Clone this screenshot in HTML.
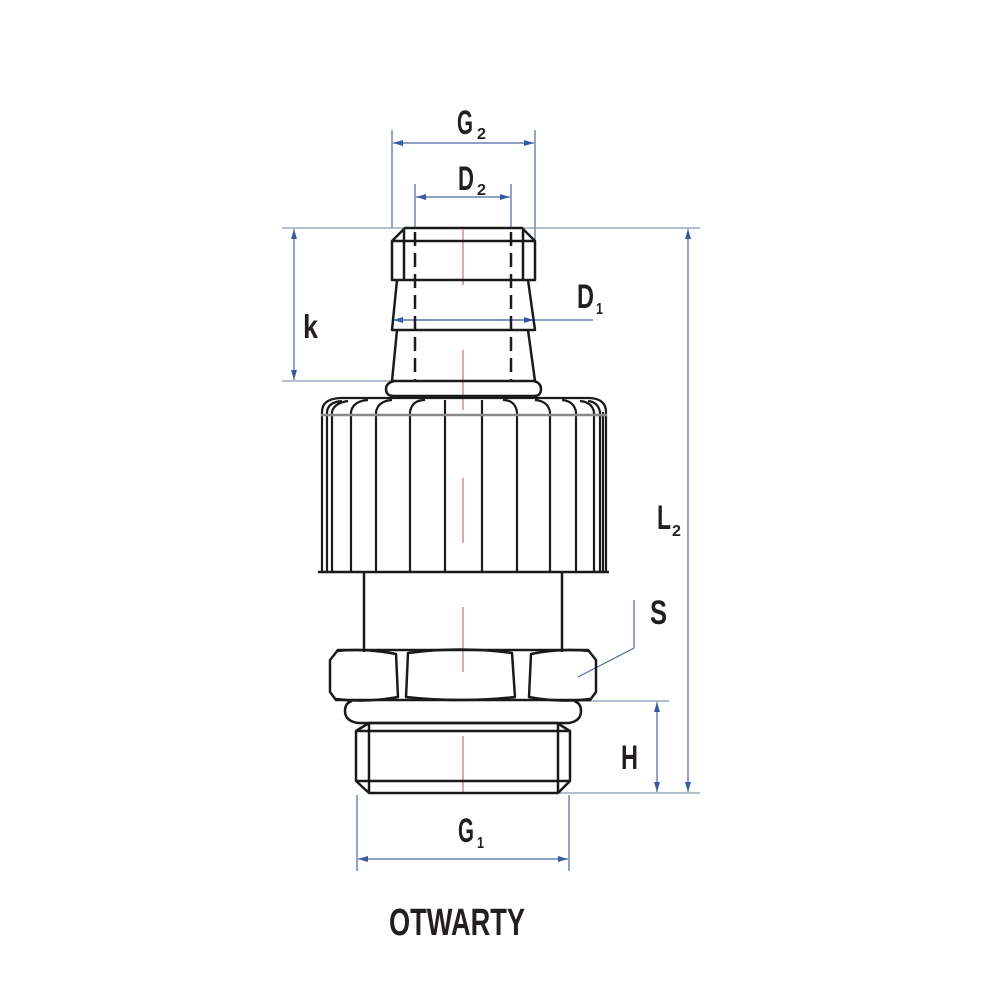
<!DOCTYPE html>
<html><head><meta charset="utf-8"><style>
html,body{margin:0;padding:0;background:#fff;}
svg{display:block;}
text{font-family:"Liberation Sans Narrow","Liberation Sans",sans-serif;font-weight:bold;fill:#231f20;}
</style></head><body>
<svg width="1000" height="1000" viewBox="0 0 1000 1000" xmlns="http://www.w3.org/2000/svg">
<defs>
<marker id="a" viewBox="0 0 10 6" refX="10" refY="3" markerWidth="10" markerHeight="6" orient="auto-start-reverse" markerUnits="userSpaceOnUse">
<path d="M0,0 L10,3 L0,6 z" fill="#3a5aa0"/></marker>
</defs>
<g stroke="#4a68a8" stroke-width="1.2" fill="none">
<line x1="392" y1="130" x2="392" y2="228"/>
<line x1="535" y1="130" x2="535" y2="240"/>
<line x1="393" y1="143" x2="534" y2="143" marker-start="url(#a)" marker-end="url(#a)"/>
<line x1="415" y1="184" x2="415" y2="228"/>
<line x1="511" y1="184" x2="511" y2="228"/>
<line x1="416" y1="197" x2="510" y2="197" marker-start="url(#a)" marker-end="url(#a)"/>
<line x1="393" y1="320" x2="593" y2="320" marker-start="url(#a)"/>
<line x1="393" y1="320" x2="534" y2="320" marker-end="url(#a)"/>
<line x1="294" y1="229" x2="294" y2="380" marker-start="url(#a)" marker-end="url(#a)"/>
<line x1="688" y1="229" x2="688" y2="792" marker-start="url(#a)" marker-end="url(#a)"/>
<line x1="657" y1="702" x2="657" y2="792" marker-start="url(#a)" marker-end="url(#a)"/>
<line x1="357" y1="795" x2="357" y2="871"/>
<line x1="569" y1="795" x2="569" y2="871"/>
<line x1="358" y1="859" x2="568" y2="859" marker-start="url(#a)" marker-end="url(#a)"/>
<polyline points="634,600 634,648 578,677"/>
</g>
<g stroke="#8a96b0" stroke-width="1.2" fill="none">
<line x1="282" y1="228" x2="700" y2="228"/>
<line x1="282" y1="381" x2="395" y2="381"/>
<line x1="580" y1="701" x2="669" y2="701"/>
<line x1="560" y1="793" x2="700" y2="793"/>
</g>
<g stroke="#c0504d" stroke-width="1">
<line x1="463" y1="230" x2="463" y2="285"/>
<line x1="463" y1="350" x2="463" y2="410"/>
<line x1="463" y1="478" x2="463" y2="543"/>
<line x1="463" y1="607" x2="463" y2="672"/>
<line x1="463" y1="736" x2="463" y2="792"/>
</g>
<g stroke="#1a1a1a" stroke-width="2.5" fill="none" stroke-linejoin="round">
<path d="M405,228 L522,228 L535,241 L535,280 L392,280 L392,241 Z"/>
<line x1="392" y1="241" x2="535" y2="241"/>
<line x1="404" y1="229" x2="404" y2="280"/>
<line x1="523" y1="229" x2="523" y2="280"/>
<path d="M397,280 L392,330 L535,330 L528,280"/>
<path d="M397,330 L392,381 L535,381 L528,330"/>
<path d="M394,381 Q386,383 386,389 Q386,396 394,396 L534,396 Q541,396 541,389 Q541,383 534,381"/>
</g>
<g stroke="#1a1a1a" stroke-width="2.5" stroke-dasharray="14,7">
<line x1="415" y1="232" x2="415" y2="380"/>
<line x1="511" y1="232" x2="511" y2="380"/>
</g>
<g stroke="#1a1a1a" stroke-width="2.2" fill="none">
<path d="M322,572 L322,412 Q322,399 340,398 L590,398 Q606,399 606,412 L606,572"/>
<line x1="318" y1="572" x2="609" y2="572" stroke-width="2.5"/>
<path d="M327,572 L327,412 Q328,402 342,401"/><path d="M332,572 L332,412 Q334,403 348,401"/>
<path d="M351,572 L351,412 Q353,401 368,400"/><path d="M376,572 L376,412 Q378,401 392,400"/>
<path d="M410,572 L410,412 Q412,400 425,400"/><line x1="445" y1="400" x2="445" y2="572"/>
<line x1="482" y1="400" x2="482" y2="572"/><path d="M517,572 L517,412 Q515,400 503,400"/>
<path d="M550,572 L550,412 Q548,401 535,400"/><path d="M576,572 L576,412 Q574,401 562,400"/>
<path d="M594,572 L594,412 Q592,402 580,401"/><path d="M600,572 L600,412 Q598,402 588,401"/>
<line x1="603" y1="412" x2="603" y2="572"/>
</g>
<line x1="321" y1="415" x2="607" y2="415" stroke="#8a8a8a" stroke-width="2.5"/>
<g stroke="#1a1a1a" stroke-width="2.5" fill="none" stroke-linejoin="round">
<line x1="364" y1="572" x2="364" y2="652"/>
<line x1="562" y1="572" x2="562" y2="652"/>
<path d="M338,650 L588,650 L596,660 L596,692 L590,700 L336,700 L330,692 L330,660 Z"/>
<path d="M336,651 Q366,648 396,654 L398,697 Q366,703 336,699"/>
<path d="M408,653 Q460,646 512,653 L515,697 Q460,703 406,697 Z"/>
<path d="M590,651 Q560,648 531,654 L529,697 Q560,703 590,699"/>
<path d="M352,701 Q345,703 345,711 Q345,721 358,723 L569,723 Q581,721 581,711 Q581,703 574,701"/>
<path d="M369,723 L557,723 L570,731 L570,781 L558,793 L369,793 L356,781 L356,731 Z"/>
<line x1="356" y1="731" x2="570" y2="731"/>
<line x1="356" y1="781" x2="570" y2="781"/>
<line x1="369" y1="724" x2="369" y2="793"/>
<line x1="558" y1="724" x2="558" y2="793"/>
</g>
<g style="font-weight:bold">
<text x="457" y="134" font-size="34" textLength="16" lengthAdjust="spacingAndGlyphs">G</text><text x="477" y="139" font-size="16" textLength="9" lengthAdjust="spacingAndGlyphs">2</text>
<text x="458" y="190" font-size="34" textLength="16" lengthAdjust="spacingAndGlyphs">D</text><text x="477" y="195" font-size="16" textLength="9" lengthAdjust="spacingAndGlyphs">2</text>
<text x="577" y="308" font-size="34" textLength="17" lengthAdjust="spacingAndGlyphs">D</text><text x="596" y="314" font-size="16" textLength="7" lengthAdjust="spacingAndGlyphs">1</text>
<text x="303" y="338" font-size="33" textLength="15" lengthAdjust="spacingAndGlyphs">k</text>
<text x="657" y="529" font-size="34" textLength="14" lengthAdjust="spacingAndGlyphs">L</text><text x="672" y="536" font-size="16" textLength="9" lengthAdjust="spacingAndGlyphs">2</text>
<text x="650" y="624" font-size="34" textLength="17" lengthAdjust="spacingAndGlyphs">S</text>
<text x="621" y="769" font-size="34" textLength="17" lengthAdjust="spacingAndGlyphs">H</text>
<text x="458" y="842" font-size="34" textLength="16" lengthAdjust="spacingAndGlyphs">G</text><text x="477" y="848" font-size="16" textLength="7" lengthAdjust="spacingAndGlyphs">1</text>
<text x="389" y="935" font-size="38" textLength="136" lengthAdjust="spacingAndGlyphs">OTWARTY</text>
</g>
</svg>
</body></html>
